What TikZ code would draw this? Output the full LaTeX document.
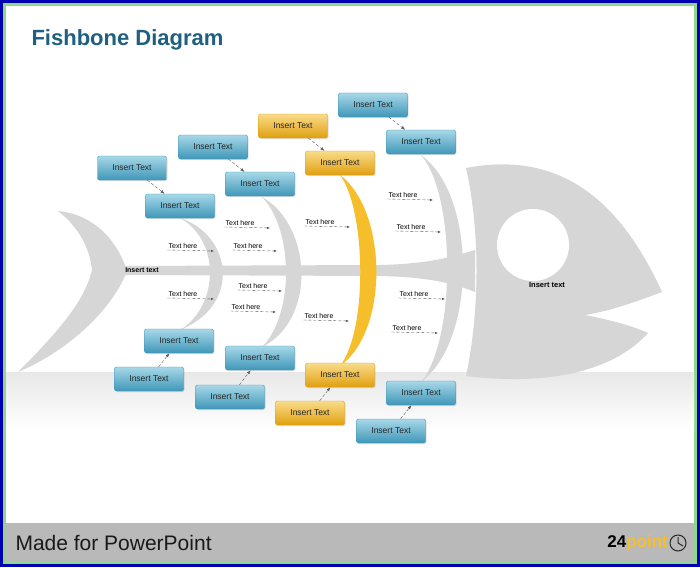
\documentclass[tikz,border=0pt]{standalone}
\usepackage{fontspec}
\setmainfont{Liberation Sans}
\usetikzlibrary{arrows.meta,shadows}
\definecolor{bluebox}{HTML}{5FB8D6}
\definecolor{blueboxd}{HTML}{3F97B8}
\definecolor{yelbox}{HTML}{F5BE2A}
\definecolor{yelboxd}{HTML}{E0A010}
\definecolor{fish}{HTML}{D6D6D6}
\definecolor{titleblue}{HTML}{1F6080}
\tikzset{
  bbox/.style={rectangle,rounded corners=2pt,minimum width=69pt,minimum height=24pt,
    top color=bluebox!55,bottom color=blueboxd,draw=blueboxd,font=\fontsize{8.5}{9}\selectfont,text=black!85,
    drop shadow={opacity=0.25,shadow xshift=1pt,shadow yshift=-1pt}},
  ybox/.style={bbox,top color=yelbox!55,bottom color=yelboxd,draw=yelboxd},
  conn/.style={densely dashed,gray!70!black,-{Latex[length=4pt]}},
  th/.style={font=\fontsize{7}{7}\selectfont,inner sep=1pt},
  tharr/.style={densely dashed,gray!70!black,-{Latex[length=3pt]}},
}
\begin{document}
\begin{tikzpicture}[x=1pt,y=-1pt]
\useasboundingbox (0,0) rectangle (700,567);
\fill[blue!70!black] (0,0) rectangle (700,567);
\fill[green!50!gray!60] (3,3) rectangle (697,564);
\fill[white] (6,6) rectangle (694,523);
% floor reflection
\shade[top color=gray!18,bottom color=white] (6,372) rectangle (694,430);
\fill[gray!55] (6,523) rectangle (694,561);
\node[anchor=west,font=\fontsize{21}{24}\selectfont\color{gray!20!black}] (foot) at (12,543) {Made for PowerPoint};
\node[anchor=east,font=\bfseries\fontsize{17}{20}\selectfont,inner sep=0] (logo) at (668,543) {24\textcolor{yelbox}{point}};
\draw[gray!30!black,line width=1pt] (678,543) circle (8);
\draw[gray!30!black,line width=1pt] (678,537) -- (678,543) -- (683,546);
\node[anchor=west,font=\bfseries\fontsize{22}{26}\selectfont,text=titleblue] (title) at (28,40) {Fishbone Diagram};
% tail
\fill[fish] (58,211) .. controls (95,215) and (115,240) .. (125,265)
  -- (125,276) .. controls (110,310) and (70,350) .. (18,372)
  .. controls (60,330) and (85,300) .. (92,270)
  .. controls (90,250) and (80,228) .. (58,211) -- cycle;
% spine
\fill[fish] (120,266) -- (380,265) .. controls (430,264) and (455,256) .. (475,250)
  -- (475,292) .. controls (455,284) and (430,277) .. (380,276) -- (120,275) -- cycle;
% head
\fill[fish] (466,168) .. controls (560,150) and (620,200) .. (662,292)
  .. controls (640,300) and (615,310) .. (585,315)
  .. controls (610,320) and (630,325) .. (648,333)
  .. controls (610,375) and (540,385) .. (466,376)
  .. controls (480,310) and (480,230) .. (466,168) -- cycle;
\fill[white] (533,245) circle (36);
\node[font=\bfseries\fontsize{7.5}{9}\selectfont] (headtxt) at (547,285) {Insert text};
\node[font=\bfseries\fontsize{7}{8}\selectfont] (tailtxt) at (142,270) {Insert text};
% bones
\fill[fish] (180,218) .. controls (232,235) and (242,305) .. (180,330)
  .. controls (220,305) and (220,240) .. (180,218) -- cycle;
\fill[fish] (262,197) .. controls (312,225) and (317,320) .. (262,347)
  .. controls (294,315) and (294,230) .. (262,197) -- cycle;
\fill[yelbox] (340,175) .. controls (387,210) and (390,330) .. (340,366)
  .. controls (368,330) and (366,210) .. (340,175) -- cycle;
\fill[fish] (421,155) .. controls (477,195) and (477,340) .. (421,382)
  .. controls (456,340) and (456,195) .. (421,155) -- cycle;
% boxes
\node[bbox] (a1) at (132,168) {Insert Text};
\node[bbox] (a2) at (180,206) {Insert Text};
\node[bbox] (b1) at (213,147) {Insert Text};
\node[bbox] (b2) at (260,184) {Insert Text};
\node[ybox] (c1) at (293,126) {Insert Text};
\node[ybox] (c2) at (340,163) {Insert Text};
\node[bbox] (d1) at (373,105) {Insert Text};
\node[bbox] (d2) at (421,142) {Insert Text};
\node[bbox] (e2) at (179,341) {Insert Text};
\node[bbox] (e1) at (149,379) {Insert Text};
\node[bbox] (f2) at (260,358) {Insert Text};
\node[bbox] (f1) at (230,397) {Insert Text};
\node[ybox] (g2) at (340,375) {Insert Text};
\node[ybox] (g1) at (310,413) {Insert Text};
\node[bbox] (h2) at (421,393) {Insert Text};
\node[bbox] (h1) at (391,431) {Insert Text};
\foreach \u/\v in {a1/a2,b1/b2,c1/c2,d1/d2,e1/e2,f1/f2,g1/g2,h1/h2}
  \draw[conn] (\u) -- (\v);
% text here labels
\foreach \n/\x/\y/\e in {t1/183/248/214,t2/183/296/214,t3/240/225/270,t4/248/248/277,
  t5/253/288/282,t6/246/309/276,t7/320/224/350,t8/319/318/349,
  t9/403/197/433,t10/411/229/441,t11/414/296/445,t12/407/330/438}{
  \node[th,anchor=south] (\n) at (\x,\y+2) {Text here};
  \coordinate (\n e) at (\e,\y+3);
  \draw[tharr] (\n.south west) -- (\n e);
}
\end{tikzpicture}
\end{document}
